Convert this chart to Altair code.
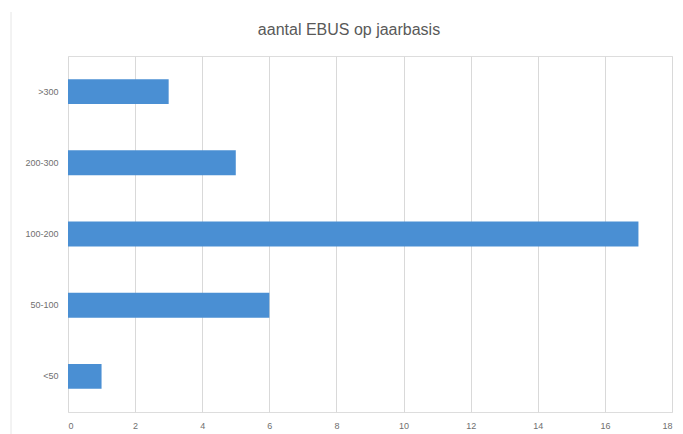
import altair as alt
import pandas as pd

# Number of EBUS procedures per year, grouped by centre volume
categories = [">300", "200-300", "100-200", "50-100", "<50"]
counts = [3, 5, 17, 6, 1]

x_ticks = list(range(0, 19, 2))
title_text = "aantal EBUS op jaarbasis"

df = pd.DataFrame({"groep": categories, "aantal": counts})

FONT = "Liberation Sans"
GREY_TEXT = "#595959"
GREY_LABEL = "#6f6f6f"
GRID = "#d9d9d9"

bars = alt.Chart(df).mark_bar(color="#4a8fd3").encode(
    x=alt.X(
        "aantal:Q",
        scale=alt.Scale(domain=[0, 18], nice=False),
        axis=alt.Axis(
            values=x_ticks,
            title=None,
            grid=True,
            gridColor=GRID,
            gridWidth=1,
            domain=False,
            ticks=False,
            labelFont=FONT,
            labelFontSize=9,
            labelColor=GREY_LABEL,
            labelPadding=9,
        ),
    ),
    y=alt.Y(
        "groep:N",
        sort=categories,
        scale=alt.Scale(paddingInner=0.65, paddingOuter=0.325),
        axis=alt.Axis(
            title=None,
            domain=False,
            ticks=False,
            labelFont=FONT,
            labelFontSize=9,
            labelColor=GREY_LABEL,
            labelPadding=10,
        ),
    ),
)

# thin frame line along the left edge of the chart area
frame = alt.Chart(pd.DataFrame({"k": [0]})).mark_rule(color="#e6e6e6", strokeWidth=1).encode(
    x=alt.value(-57),
    y=alt.value(-44),
    y2=alt.value(378),
)

# chart heading, centred over the whole chart area
heading = alt.Chart(pd.DataFrame({"t": [title_text]})).mark_text(
    font=FONT,
    fontSize=16,
    color=GREY_TEXT,
    align="center",
    baseline="middle",
).encode(
    x=alt.value(281),
    y=alt.value(-26),
    text="t:N",
)

chart = (
    alt.layer(frame, bars, heading)
    .properties(
        width=604,
        height=356,
        autosize=alt.AutoSizeParams(type="none"),
        padding={"left": 68, "top": 56, "right": 11, "bottom": 22},
    )
    .configure_view(strokeWidth=0)
    .configure(background="white")
)

chart.save("out.html", embed_options={"renderer": "svg", "actions": False})
